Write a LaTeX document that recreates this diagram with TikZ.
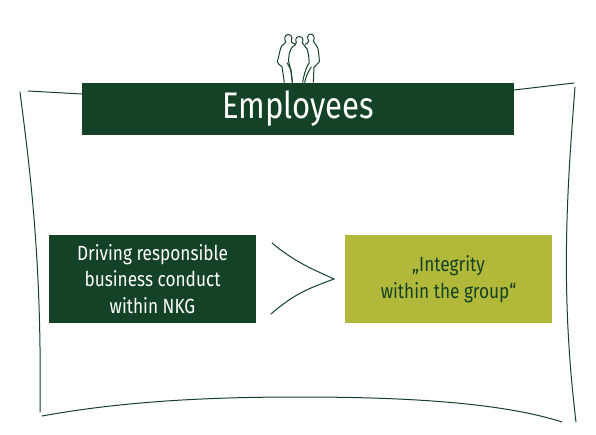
\documentclass[tikz,border=0pt]{standalone}
\usepackage{fontspec}
\setmainfont{Fira Sans}[FakeStretch=0.84]
\definecolor{nkgdark}{RGB}{20,66,38}
\definecolor{nkgolive}{RGB}{178,184,58}
\tikzset{
  sketch/.style={draw=nkgdark,line width=1pt,line cap=round},
  figureline/.style={draw=nkgdark,line width=1pt,line join=round},
  darkbox/.style={fill=nkgdark,text=white,inner sep=0pt,align=center,font=\fontsize{20.5}{26.5}\selectfont},
  olivebox/.style={fill=nkgolive,text=nkgdark,inner sep=0pt,align=center,font=\fontsize{20.5}{26.5}\selectfont},
}
\begin{document}
\begin{tikzpicture}[x=1pt,y=-1pt]
\useasboundingbox (0,0) rectangle (596,435);
% frame
\coordinate (tl1) at (28,91);
\coordinate (tl2) at (82,94);
\coordinate (tr1) at (514,90);
\coordinate (tr2) at (574,83);
\draw[sketch] (tl1) -- (tl2);
\draw[sketch] (tr1) -- (tr2);
\draw[sketch] (20,92) .. controls (30,170) and (42,260) .. (40,412);
\draw[sketch] (575,87) .. controls (567,190) and (560,290) .. (576,422);
\draw[sketch] (42,416) .. controls (130,400) and (220,397) .. (300,397) .. controls (400,397) and (500,402) .. (562,422);
% people
\begin{scope}[shift={(240,20)},x=0.3333pt,y=-0.3333pt]
\draw[figureline] (133,188) -- (126,140) .. controls (118,135) and (112,130) .. (112,125) .. controls (118,105) and (120,85) .. (125,78) .. controls (130,72) and (136,72) .. (137,66) .. controls (133,58) and (132,45) .. (145,43) .. controls (158,45) and (157,58) .. (154,66) .. controls (156,70) and (162,70) .. (167,73);
\draw[figureline] (141,128) -- (153,150) -- (157,188);
\draw[figureline] (157,188) .. controls (156,165) and (150,140) .. (146,125) .. controls (145,105) and (150,90) .. (156,82) .. controls (162,76) and (170,75) .. (169,68) .. controls (165,58) and (168,50) .. (178,50) .. controls (188,50) and (191,58) .. (187,68) .. controls (188,76) and (198,78) .. (202,88) .. controls (206,105) and (208,120) .. (207,130) .. controls (200,140) and (192,160) .. (188,188);
\draw[figureline] (194,188) .. controls (197,170) and (205,155) .. (214,140);
\draw[figureline] (195,73) .. controls (200,70) and (205,70) .. (206,64) .. controls (202,56) and (200,44) .. (212,42) .. controls (224,44) and (224,56) .. (220,64) .. controls (222,72) and (232,74) .. (234,85) .. controls (236,100) and (238,115) .. (238,125) .. controls (234,132) and (226,136) .. (222,142) -- (220,188);
\end{scope}
% boxes
\node[darkbox,minimum width=432pt,minimum height=52pt,font=\fontsize{37}{40}\selectfont] (title) at (298,109) {\raisebox{-1.5pt}{Employees}};
\node[darkbox,minimum width=207pt,minimum height=88pt] (driving) at (152.5,279) {Driving responsible\\business conduct\\within NKG};
\node[olivebox,minimum width=207pt,minimum height=88pt] (integrity) at (448.5,279) {„Integrity\\within the group“};
% chevron
\coordinate (chevtop) at (272,243);
\coordinate (chevtip) at (334,279);
\coordinate (chevbot) at (271,314);
\draw[sketch] (chevtop) .. controls (295,262) and (310,268) .. (chevtip) .. controls (310,288) and (295,293) .. (chevbot);
\end{tikzpicture}
\end{document}
